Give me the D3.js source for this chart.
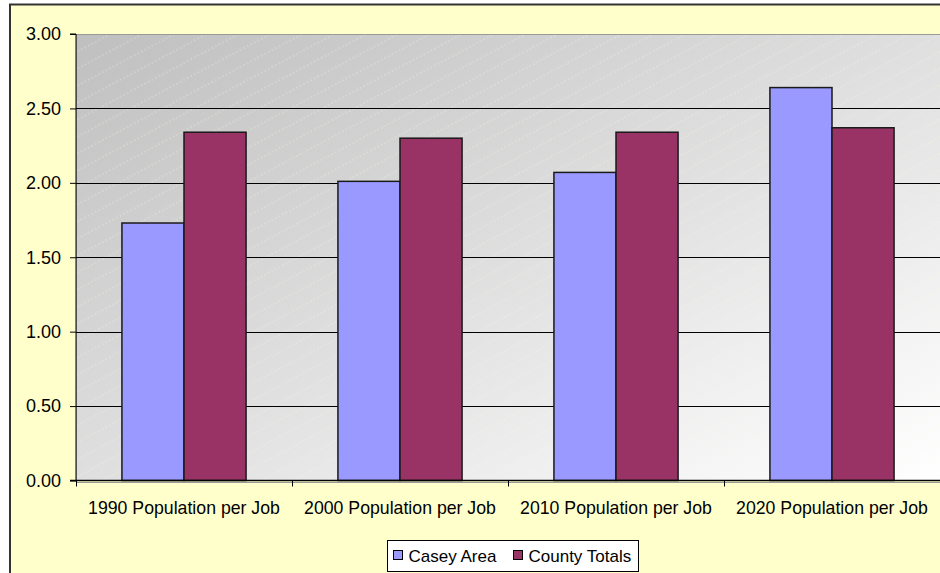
<!DOCTYPE html>
<html>
<head>
<meta charset="utf-8">
<script src="https://cdn.jsdelivr.net/npm/d3@7"></script>
<style>
  html, body { margin: 0; padding: 0; background: #ffffff; }
  svg { display: block; font-family: "Liberation Sans", Arial, sans-serif; }
</style>
</head>
<body>
<svg id="chart" width="940" height="573"></svg>
<script>
// Population per job, by decade
const categories = ["1990 Population per Job", "2000 Population per Job", "2010 Population per Job", "2020 Population per Job"];
const seriesNames = ["Casey Area", "County Totals"];
const caseyArea = [1.73, 2.01, 2.07, 2.64];
const countyTotals = [2.34, 2.30, 2.34, 2.37];
const yTicks = [0, 0.5, 1.0, 1.5, 2.0, 2.5, 3.0];
const seriesColors = ["#9999ff", "#993366"];

const seriesValues = [caseyArea, countyTotals];

const svg = d3.select("#chart");
const W = 940, H = 573;

// Chart area (yellow panel with dark frame)
svg.append("rect")
  .attr("x", 10).attr("y", 4.5)
  .attr("width", W + 20).attr("height", H + 20)
  .attr("fill", "#ffffcc")
  .attr("stroke", "#333333").attr("stroke-width", 2);

const plot = { left: 76, right: 940, top: 34, bottom: 480.5 };

const x0 = d3.scaleBand().domain(categories).range([plot.left, plot.right]).padding(0);
const x1 = d3.scaleBand().domain(seriesNames).range([0, x0.bandwidth()]).paddingInner(0).paddingOuter(0.74);
const y = d3.scaleLinear().domain([0, 3]).range([plot.bottom, plot.top]);

// Plot-area fill: diagonal grey gradient with faint slanted texture
const defs = svg.append("defs");
const grad = defs.append("linearGradient").attr("id", "plotGrad")
  .attr("x1", 0).attr("y1", 0).attr("x2", 1).attr("y2", 1);
grad.append("stop").attr("offset", "0%").attr("stop-color", "#bfbfbf");
grad.append("stop").attr("offset", "100%").attr("stop-color", "#ffffff");

const pat = defs.append("pattern").attr("id", "texture")
  .attr("patternUnits", "userSpaceOnUse")
  .attr("width", 200).attr("height", 15)
  .attr("patternTransform", "rotate(-28)");
pat.append("line")
  .attr("x1", 0).attr("y1", 7).attr("x2", 200).attr("y2", 7)
  .attr("stroke", "#fbfbe0").attr("stroke-opacity", 0.4)
  .attr("stroke-width", 1).attr("stroke-dasharray", "2,2");

svg.append("rect")
  .attr("x", plot.left).attr("y", plot.top)
  .attr("width", plot.right - plot.left).attr("height", plot.bottom - plot.top)
  .attr("fill", "url(#plotGrad)");
svg.append("rect")
  .attr("x", plot.left).attr("y", plot.top)
  .attr("width", plot.right - plot.left).attr("height", plot.bottom - plot.top)
  .attr("fill", "url(#texture)");

// Plot-area border
svg.append("rect")
  .attr("x", plot.left + 0.5).attr("y", plot.top + 0.5)
  .attr("width", plot.right - plot.left).attr("height", plot.bottom - plot.top + 1.5)
  .attr("fill", "none").attr("stroke", "#9a9a9a").attr("stroke-width", 1);

// Horizontal gridlines
svg.append("g").selectAll("line")
  .data(yTicks.filter(t => t > 0 && t < 3))
  .join("line")
  .attr("x1", plot.left).attr("x2", plot.right)
  .attr("y1", d => Math.round(y(d)) + 0.5).attr("y2", d => Math.round(y(d)) + 0.5)
  .attr("stroke", "#000000").attr("stroke-width", 1);

// Bars
const groups = svg.append("g").selectAll("g")
  .data(categories)
  .join("g")
  .attr("transform", d => `translate(${x0(d)},0)`);

groups.selectAll("rect")
  .data((d, i) => seriesNames.map((s, j) => ({ s, v: seriesValues[j][i], j })))
  .join("rect")
  .attr("x", d => x1(d.s))
  .attr("y", d => y(d.v))
  .attr("width", x1.bandwidth())
  .attr("height", d => y(0) - y(d.v))
  .attr("fill", d => seriesColors[d.j])
  .attr("stroke", "#1a1a1a").attr("stroke-width", 1.5);

// Y axis
const yAxis = d3.axisLeft(y).tickValues(yTicks).tickFormat(d3.format(".2f")).tickSize(6).tickPadding(9);
const gy = svg.append("g").attr("transform", `translate(${plot.left},0)`).call(yAxis);
gy.select(".domain").attr("stroke", "#000").attr("d", `M-6,${plot.top}H0V${plot.bottom}`);
gy.selectAll(".tick line").attr("stroke", "#000");
gy.selectAll(".tick text").attr("font-size", 18).attr("fill", "#000")
  .attr("font-family", "Liberation Sans, Arial, sans-serif");

// X axis with ticks on category boundaries
const gx = svg.append("g").attr("transform", `translate(0,${plot.bottom})`);
gx.append("line").attr("x1", plot.left - 6).attr("x2", plot.right).attr("y1", 0).attr("y2", 0)
  .attr("stroke", "#000").attr("stroke-width", 1.5);
const boundaries = categories.map(c => x0(c)).concat([plot.right]);
gx.selectAll("line.tk").data(boundaries).join("line").attr("class", "tk")
  .attr("x1", d => Math.round(d) + 0.5).attr("x2", d => Math.round(d) + 0.5)
  .attr("y1", 0).attr("y2", 6).attr("stroke", "#000");
gx.selectAll("text").data(categories).join("text")
  .attr("x", d => x0(d) + x0.bandwidth() / 2)
  .attr("y", 33)
  .attr("text-anchor", "middle")
  .attr("font-size", 17.7).attr("fill", "#000")
  .text(d => d);

// Legend
const legend = svg.append("g");
legend.append("rect")
  .attr("x", 387.5).attr("y", 540.5).attr("width", 251).attr("height", 31)
  .attr("fill", "#ffffff").attr("stroke", "#000").attr("stroke-width", 1);
const legendX = [393, 513];
const items = legend.selectAll("g.item").data(seriesNames).join("g").attr("class", "item")
  .attr("transform", (d, i) => `translate(${legendX[i]},0)`);
items.append("rect")
  .attr("x", 0.5).attr("y", 550.5).attr("width", 9).attr("height", 9)
  .attr("fill", (d, i) => seriesColors[i]).attr("stroke", "#000").attr("stroke-width", 1);
items.append("text")
  .attr("x", 15.5).attr("y", 562)
  .attr("font-size", 17).attr("fill", "#000")
  .text(d => d);
</script>
</body>
</html>
